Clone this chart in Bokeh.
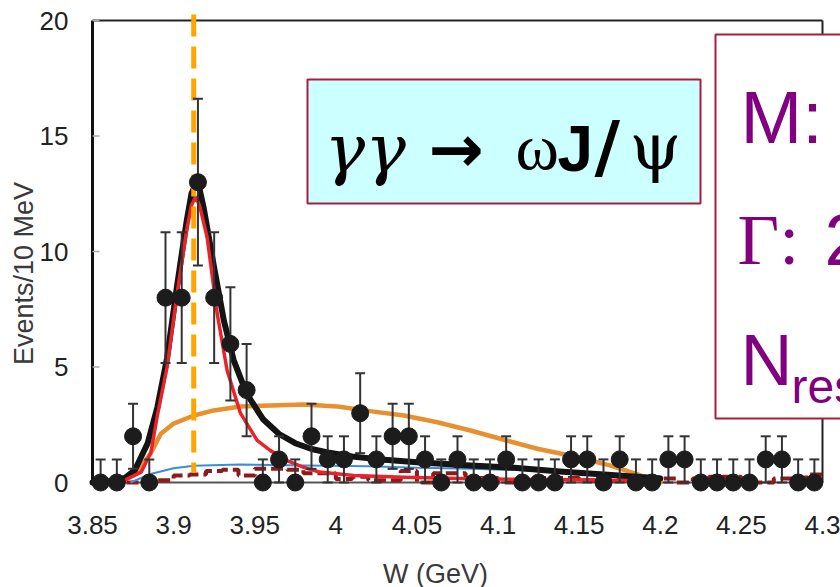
import math
from bokeh.plotting import figure
from bokeh.models import Range1d, Label
from bokeh.core.properties import value
from bokeh.embed import file_html
from bokeh.resources import INLINE

# ---------------- data ----------------
w_centers = [3.855, 3.865, 3.875, 3.885, 3.895, 3.905, 3.915, 3.925, 3.935, 3.945,
             3.955, 3.965, 3.975, 3.985, 3.995, 4.005, 4.015, 4.025, 4.035, 4.045,
             4.055, 4.065, 4.075, 4.085, 4.095, 4.105, 4.115, 4.125, 4.135, 4.145,
             4.155, 4.165, 4.175, 4.185, 4.195, 4.205, 4.215, 4.225, 4.235, 4.245,
             4.255, 4.265, 4.275, 4.285, 4.295]
counts = [0, 0, 2, 0, 8, 8, 13, 8, 6, 4,
          0, 1, 0, 2, 1, 1, 3, 1, 2, 2,
          1, 0, 1, 0, 0, 1, 0, 0, 0, 1,
          1, 0, 1, 0, 0, 1, 1, 0, 0, 0,
          0, 1, 1, 0, 0]
err_up = [1.0, 1.0, 1.41, 1.0, 2.83, 2.83, 3.61, 2.83, 2.45, 2.0,
          1.0, 1.0, 1.0, 1.41, 1.0, 1.0, 1.73, 1.0, 1.41, 1.41,
          1.0, 1.0, 1.0, 1.0, 1.0, 1.0, 1.0, 1.0, 1.0, 1.0,
          1.0, 1.0, 1.0, 1.0, 1.0, 1.0, 1.0, 1.0, 1.0, 1.0,
          1.0, 1.0, 1.0, 1.0, 1.0]
err_dn = [0.0, 0.0, 1.41, 0.0, 2.83, 2.83, 3.61, 2.83, 2.45, 2.0,
          0.0, 1.0, 0.0, 1.41, 1.0, 1.0, 1.73, 1.0, 1.41, 1.41,
          1.0, 0.0, 1.0, 0.0, 0.0, 1.0, 0.0, 0.0, 0.0, 1.0,
          1.0, 0.0, 1.0, 0.0, 0.0, 1.0, 1.0, 0.0, 0.0, 0.0,
          0.0, 1.0, 1.0, 0.0, 0.0]

# dashed background histogram (per 10 MeV bin)
hist_vals = [0.0, 0.0, 0.0, 0.05, 0.1, 0.3, 0.35, 0.5, 0.55, 0.3,
             0.6, 0.6, 0.55, 0.4, 0.4, 0.15, 0.25, 0.1, 0.1, 0.5,
             0.0, 0.4, 0.4, 0.2, 0.2, 0.0, 0.0, 0.2, 0.2, 0.2,
             0.1, 0.1, 0.1, 0.05, 0.05, 0.17, 0.0, 0.17, 0.25, 0.25,
             0.0, 0.0, 0.17, 0.17, 0.35]

# total fit (black)
total_x = [3.850, 3.860, 3.870, 3.876, 3.884, 3.890, 3.896, 3.902, 3.908, 3.911,
           3.9135, 3.916, 3.9185, 3.925, 3.931, 3.937, 3.945, 3.955, 3.965, 3.975,
           3.985, 3.995, 4.010, 4.030, 4.050, 4.080, 4.110, 4.140, 4.170, 4.200]
total_y = [0.0, 0.05, 0.2, 0.52, 1.7, 3.26, 5.4, 8.45, 11.3, 12.5,
           12.9, 12.7, 11.9, 9.3, 7.0, 5.3, 3.85, 2.75, 2.1, 1.7,
           1.45, 1.3, 1.13, 0.98, 0.88, 0.75, 0.64, 0.47, 0.32, 0.17]

# resonance signal (red)
sig_x = [3.860, 3.870, 3.880, 3.886, 3.890, 3.896, 3.902, 3.908, 3.911, 3.9135,
         3.916, 3.9207, 3.9269, 3.933, 3.9412, 3.9515, 3.9597, 3.970, 3.980, 3.990,
         4.011, 4.042, 4.083, 4.145, 4.200]
sig_y = [0.0, 0.1, 0.45, 1.3, 2.9, 5.0, 8.1, 10.9, 12.0, 12.35,
         12.0, 10.6, 7.3, 4.85, 3.0, 1.82, 1.38, 0.95, 0.66, 0.45,
         0.30, 0.23, 0.16, 0.12, 0.06]

# broad component (orange)
broad_x = [3.863, 3.8775, 3.8858, 3.892, 3.900, 3.9125, 3.9248, 3.941, 3.960, 3.980,
           4.001, 4.021, 4.042, 4.0625, 4.083, 4.1036, 4.1242, 4.142, 4.169, 4.186, 4.200]
broad_y = [0.0, 0.45, 1.25, 2.1, 2.55, 2.9, 3.12, 3.29, 3.33, 3.38,
           3.29, 3.09, 2.9, 2.61, 2.25, 1.85, 1.46, 1.2, 0.74, 0.35, 0.0]

# smooth background (blue)
bkg_x = [3.8734, 3.8858, 3.900, 3.9125, 3.941, 3.960, 3.982, 4.020, 4.050, 4.083,
         4.115, 4.145, 4.175, 4.200]
bkg_y = [0.0, 0.37, 0.62, 0.72, 0.78, 0.76, 0.74, 0.70, 0.64, 0.59,
         0.53, 0.46, 0.36, 0.27]

mass_line = 3.9124
x_ticks = [3.85, 3.9, 3.95, 4.0, 4.05, 4.1, 4.15, 4.2, 4.25, 4.3]
y_ticks = [0, 5, 10, 15, 20]
x_lo, x_hi = 3.85, 4.30
y_lo, y_hi = 0, 20

# ---------------- layout helpers (pixel -> data) ----------------
PX_X0 = 92.0        # pixel of x = 3.85
PX_PER_X = 1622.2   # pixels per GeV
PX_Y0 = 482.0       # pixel of y = 0
PX_PER_Y = 23.1     # pixels per event


def X(px):
    return x_lo + (px - PX_X0) / PX_PER_X


def Y(py):
    return (PX_Y0 - py) / PX_PER_Y


p = figure(width=840, height=587,
           x_range=Range1d(X(0), X(840)), y_range=Range1d(Y(587), Y(0)),
           x_axis_location=None, y_axis_location=None,
           output_backend="svg", toolbar_location=None,
           min_border_left=0, min_border_right=0, min_border_top=0, min_border_bottom=0)
p.xgrid.visible = False
p.ygrid.visible = False
p.outline_line_color = None
p.background_fill_color = "white"
p.border_fill_color = "white"

# frame lines
p.segment(x0=[x_lo], y0=[y_lo], x1=[x_lo], y1=[y_hi], line_color="#111111", line_width=3)
p.segment(x0=[x_lo], y0=[y_hi], x1=[x_hi], y1=[y_hi], line_color="#222222", line_width=2)
p.segment(x0=[x_hi], y0=[y_lo], x1=[x_hi], y1=[y_hi], line_color="#222222", line_width=2)
p.segment(x0=[x_lo], y0=[y_lo], x1=[x_hi], y1=[y_lo], line_color="#555555", line_width=2)
# inward y ticks
p.segment(x0=[x_lo] * len(y_ticks), y0=y_ticks, x1=[X(PX_X0 + 7)] * len(y_ticks), y1=y_ticks,
          line_color="#aaaaaa", line_width=1.5)

# tick labels
p.text(x=[X(68)] * len(y_ticks), y=y_ticks, text=[f"{t:g}" for t in y_ticks],
       text_font=value("Liberation Sans"), text_font_size="26px", text_color="#222222",
       text_align="right", text_baseline="middle")
p.text(x=x_ticks, y=[Y(524)] * len(x_ticks), text=[f"{t:g}" for t in x_ticks],
       text_font=value("Liberation Sans"), text_font_size="26px", text_color="#222222",
       text_align="center", text_baseline="middle")

# histogram (dashed, step)
edges = [c - 0.005 for c in w_centers] + [w_centers[-1] + 0.005]
p.step(x=edges, y=hist_vals + [hist_vals[-1]], mode="after",
       line_color="#8E1B1B", line_width=4, line_dash="12 5")

# curves
p.line(bkg_x, bkg_y, line_color="#3A8ED6", line_width=2)
p.line(broad_x, broad_y, line_color="#E8902F", line_width=4.5, line_join="round", line_cap="round")
p.line(total_x, total_y, line_color="#141414", line_width=6, line_join="round", line_cap="round")
p.line(sig_x, sig_y, line_color="#E8242A", line_width=3.5, line_join="round")

# vertical dashed mass line
p.segment(x0=[mass_line], y0=[Y(14)], x1=[mass_line], y1=[Y(472)],
          line_color="#FFA500", line_width=5, line_dash="22 10")

# error bars
hi = [c + e for c, e in zip(counts, err_up)]
lo = [c - e for c, e in zip(counts, err_dn)]
p.segment(x0=w_centers, y0=lo, x1=w_centers, y1=hi, line_color="#333333", line_width=2)
p.scatter(w_centers, hi, marker="dash", size=10, line_color="#333333", line_width=2)
p.scatter(w_centers, lo, marker="dash", size=10, line_color="#333333", line_width=2)

# points
p.scatter(w_centers, counts, marker="circle", size=17, fill_color="#1c1c1c", line_color="#1c1c1c")

# boxes
p.quad(left=[X(307)], right=[X(700)], top=[Y(79)], bottom=[Y(203)],
       fill_color="#CCFFFF", line_color="#A81C3C", line_width=2)
p.quad(left=[X(715)], right=[X(880)], top=[Y(34)], bottom=[Y(418)],
       fill_color="white", line_color="#A81C3C", line_width=2)

purple = "#800080"
BASE_SHIFT = 0.355   # empirical shift of Bokeh's alphabetic baseline, in em


def lab(px, py, text, font, size, color="black", style="normal", align="left",
        baseline="alphabetic", angle=0.0):
    if baseline == "alphabetic":
        py = py - BASE_SHIFT * size
    p.add_layout(Label(x=X(px), y=Y(py), text=text, text_font=font, text_font_size=f"{size}px",
                       text_color=color, text_font_style=style, text_align=align,
                       text_baseline=baseline, angle=angle))


# reaction box
lab(324, 172, "γγ", "DejaVu Serif", 68, style="italic")
lab(428, 172, "→", "DejaVu Sans", 66, style="bold")
lab(515, 169, "ω", "Liberation Serif", 66)
lab(557, 171, "J", "Liberation Sans", 64, style="bold")
lab(594, 171, "/", "DejaVu Sans", 70, style="bold")
lab(629, 169, "ψ", "DejaVu Serif", 66)

# parameter box
lab(740, 143, "M:", "Liberation Sans", 74, color=purple)
lab(737, 265, "Γ:", "Liberation Serif", 72, color=purple)
lab(824, 265, "2", "Liberation Sans", 72, color=purple)
lab(740, 385, "N", "Liberation Sans", 72, color=purple)
lab(791, 403, "res", "Liberation Sans", 48, color=purple)

# axis titles
lab(23, 273, "Events/10 MeV", "Liberation Sans", 27, color="#3a3a3a",
    align="center", baseline="middle", angle=math.pi / 2)
lab(435, 573, "W (GeV)", "Liberation Sans", 27, color="#3a3a3a",
    align="center", baseline="middle")

open("out.html", "w").write(file_html(p, INLINE))
